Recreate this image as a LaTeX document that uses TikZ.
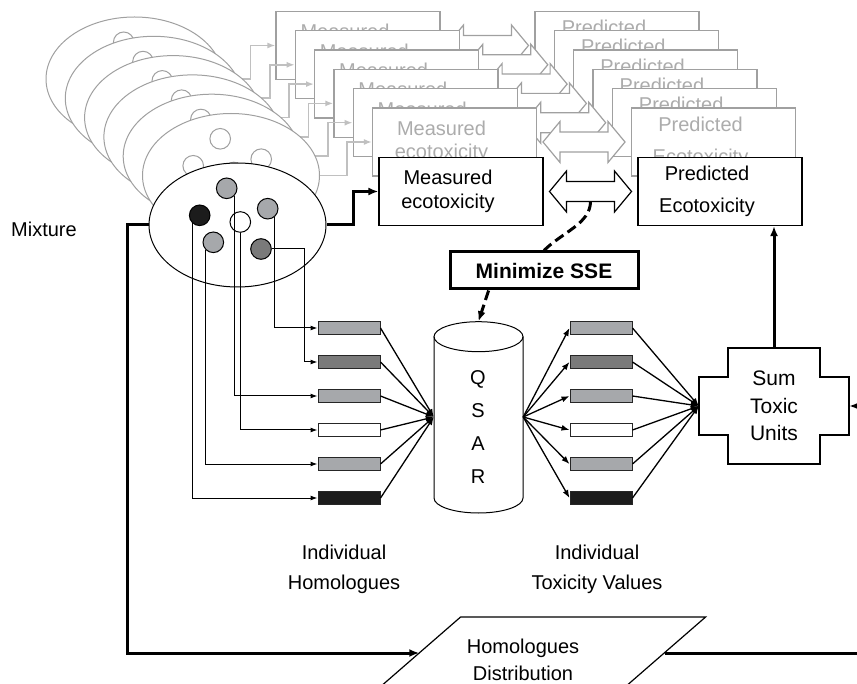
\documentclass[tikz,border=0pt]{standalone}
\usepackage{fontspec}
\setmainfont{Liberation Sans}
\usetikzlibrary{arrows.meta, shapes.geometric, positioning, calc}
\definecolor{grisclaro}{RGB}{166,168,171}
\definecolor{grisoscuro}{RGB}{122,122,122}
\definecolor{casinegro}{RGB}{28,28,28}
\definecolor{fantasma}{RGB}{160,160,160}
\definecolor{fantasmatxt}{RGB}{172,172,172}
\definecolor{fantasmaflecha}{RGB}{192,192,192}
% outline of a two-headed block arrow round a named node
\newcommand{\flechadoble}[2]{%
  \draw[#2] (#1.center) ++(-41,0) -- ++(17,-20.5) -- ++(0,10.5) -- ++(48,0) -- ++(0,-10.5)
    -- ++(17,20.5) -- ++(-17,20.5) -- ++(0,-10.5) -- ++(-48,0) -- ++(0,10.5) -- cycle;}

\begin{document}
\begin{tikzpicture}[x=1pt, y=-1pt, every node/.style={font=\fontsize{20}{23.5}\selectfont},
      mix/.style={draw, fill=white, ellipse, minimum width=177pt, minimum height=124pt,
                  inner sep=0pt, line width=1pt},
      dot/.style={draw, circle, minimum size=20.6pt, inner sep=0pt, line width=1pt},
      box/.style={draw, fill=white, minimum width=164pt, minimum height=68pt,
                  inner sep=0pt, line width=1.2pt},
      dblspot/.style={minimum width=82pt, minimum height=41pt, inner sep=0pt},
      hbar/.style={draw=black!85, minimum width=62pt, minimum height=13pt, inner sep=0pt,
                   line width=1pt},
      link/.style={line width=1pt, -{Latex[length=7pt,width=5pt]}},
      fan/.style={line width=1.3pt, -{Latex[length=8pt,width=6pt]}},
      heavy/.style={line width=3pt, -{Latex[length=10pt,width=8pt]}},
      gline/.style={draw=fantasmaflecha, line width=1.6pt, -{Latex[length=8pt,width=6pt]}},
      sse/.style={line width=3pt, dash pattern=on 10pt off 5pt}]
  \useasboundingbox (0,0) rectangle (857,684);
  \clip (0,0) rectangle (857,684);

  % stacked mixtures behind the real one
  \foreach \k in {0,...,5}{
    \begin{scope}[shift={({-6.5-19.3*(5-\k)},{-49.5-19.3*(5-\k)})}]
      \node[mix, draw=fantasma] (gmix\k) at (237.5,225) {};
      \foreach \cx/\cy [count=\j] in {226.7/188.3, 199.7/215.3, 240.3/222, 267.7/208.7,
                                      213.3/242.3, 261/249}
        \node[dot, draw=fantasma, fill=white] (gdot\k\j) at (\cx,\cy) {};
      \node[box, draw=fantasma] (gmeas\k) at (461,191.5) {};
      \node[align=center, text=fantasmatxt, xshift=-13pt] (gmeaslbl\k) at (gmeas\k) {Measured\\ecotoxicity};
      \node[box, draw=fantasma] (gpred\k) at (720,191.5) {};
      \node[align=center, text=fantasmatxt, xshift=-13pt, font=\fontsize{20}{32}\selectfont]
        (gpredlbl\k) at (gpred\k) {Predicted\\Ecotoxicity};
      \node[dblspot] (gdbl\k) at ($(gmeas\k.east)!0.5!(gpred\k.west)$) {};
      \flechadoble{gdbl\k}{draw=fantasma, fill=white, line width=1.2pt}
      \draw[gline] (gmix\k.east) -- ++(27,0) |- (gmeas\k.west);
    \end{scope}
  }

  % the mixture
  \node (mixlbl) at (44,229) {Mixture};
  \node[mix] (mix) at (237.5,225) {};
  \node[dot, fill=grisclaro] (dtop) at (226.7,188.3) {};
  \node[dot, fill=casinegro] (dblack) at (199.7,215.3) {};
  \node[dot, fill=white] (dwhite) at (240.3,222) {};
  \node[dot, fill=grisclaro] (dright) at (267.7,208.7) {};
  \node[dot, fill=grisclaro] (dlow) at (213.3,242.3) {};
  \node[dot, fill=grisoscuro] (ddark) at (261,249) {};

  % measured vs predicted
  \node[box] (meas) at (461,191.5) {};
  \node[align=center, xshift=-13pt] (measlbl) at (meas) {Measured\\ecotoxicity};
  \node[box] (pred) at (720,191.5) {};
  \node[align=center, xshift=-13pt, font=\fontsize{20}{32}\selectfont] (predlbl) at (pred) {Predicted\\Ecotoxicity};
  \node[dblspot] (dbl) at ($(meas.east)!0.5!(pred.west)$) {};
  \flechadoble{dbl}{draw=black, fill=white, line width=1.2pt}
  \draw[heavy] (mix.east) -- ++(27,0) |- (meas.west);

  % homologues and toxicity values
  \foreach \y/\c [count=\i] in {328/grisclaro, 362/grisoscuro, 396/grisclaro,
                                430/white, 464/grisclaro, 498/casinegro}{
    \node[hbar, fill=\c] (hl\i) at (349,\y) {};
    \node[hbar, fill=\c] (tv\i) at (601,\y) {};
  }
  \node[align=center, font=\fontsize{20}{30}\selectfont] (hllbl) at (344,569) {Individual\\Homologues};
  \node[align=center, font=\fontsize{20}{30}\selectfont] (tvlbl) at (597,569) {Individual\\Toxicity Values};

  \draw[link] (dright.310) |- (hl1.west);
  \draw[link] (ddark.east) -- ++(33,0) |- (hl2.west);
  \draw[link] (dtop.315) |- (hl3.west);
  \draw[link] (dwhite.south) |- (hl4.west);
  \draw[link] (dlow.225) |- (hl5.west);
  \draw[link] (dblack.227) |- (hl6.west);

  % QSAR
  \node[minimum width=89pt, minimum height=191pt, inner sep=0pt] (qsar) at (478.5,417) {};
  \fill[white] (qsar.center) ++(-44.5,-80.3) rectangle ++(89,161.3);
  \draw[line width=1pt, fill=white] (qsar.center) ++(-44.5,-80.3) -- ++(0,161.3)
    arc[start angle=180, end angle=0, x radius=44.5, y radius=15] -- ++(0,-161.3);
  \draw[line width=1pt] (qsar.center) ++(0,-80.3) ellipse [x radius=44.5, y radius=15];
  \node[align=center, font=\fontsize{20}{33}\selectfont] (qsarlbl) at (478,427.5) {Q\\S\\A\\R};

  % sum of toxic units
  \node[align=center, minimum width=150pt, minimum height=116pt, inner sep=0pt,
        font=\fontsize{21}{27.5}\selectfont] (sum) at (774,406) {Sum\\Toxic\\Units};
  \draw[line width=1.2pt] (sum.center) ++(-46,-58) -- ++(92,0) -- ++(0,29) -- ++(29,0)
    -- ++(0,58) -- ++(-29,0) -- ++(0,29) -- ++(-92,0) -- ++(0,-29) -- ++(-29,0)
    -- ++(0,-58) -- ++(29,0) -- cycle;

  \foreach \i in {1,...,6}{
    \draw[fan] (hl\i.east) -- (qsar.west);
    \draw[fan] (qsar.east) -- (tv\i.west);
    \draw[fan] (tv\i.east) -- (sum.west);
  }
  \draw[heavy] (sum.north) -- (sum.north |- pred.south);

  % fitting loop
  \node[draw, line width=3pt, minimum width=188pt, minimum height=37pt,
        font=\bfseries\fontsize{21}{25}\selectfont] (minsse) at (544,270.5) {Minimize SSE};
  \draw[sse] ($(dbl.center)+(0,10)$) .. controls +(0,22) and +(18,-18) .. (minsse.north);
  \draw[sse, -{Latex[length=10pt,width=8pt]}] ($(minsse.south west)!0.21!(minsse.south east)$) -- (qsar.north);

  % homologues distribution
  \node[minimum width=245pt, minimum height=72pt, inner sep=0pt] (hdist) at (542,653) {};
  \draw[line width=1.2pt] (hdist.center) ++(-81.4,-36) -- ++(245,0) -- ++(-82.8,72)
    -- ++(-245,0) -- cycle;
  \node[align=center, font=\fontsize{20}{27}\selectfont, xshift=-19pt, yshift=-7pt]
    (hdistlbl) at (hdist) {Homologues\\Distribution};
  \coordinate (offright) at (880,653);
  \draw[heavy] (mix.west) -- ++(-21,0) |- (hdist.west);
  \draw[heavy] (hdist.east) -- (offright) |- (sum.east);
\end{tikzpicture}
\end{document}
